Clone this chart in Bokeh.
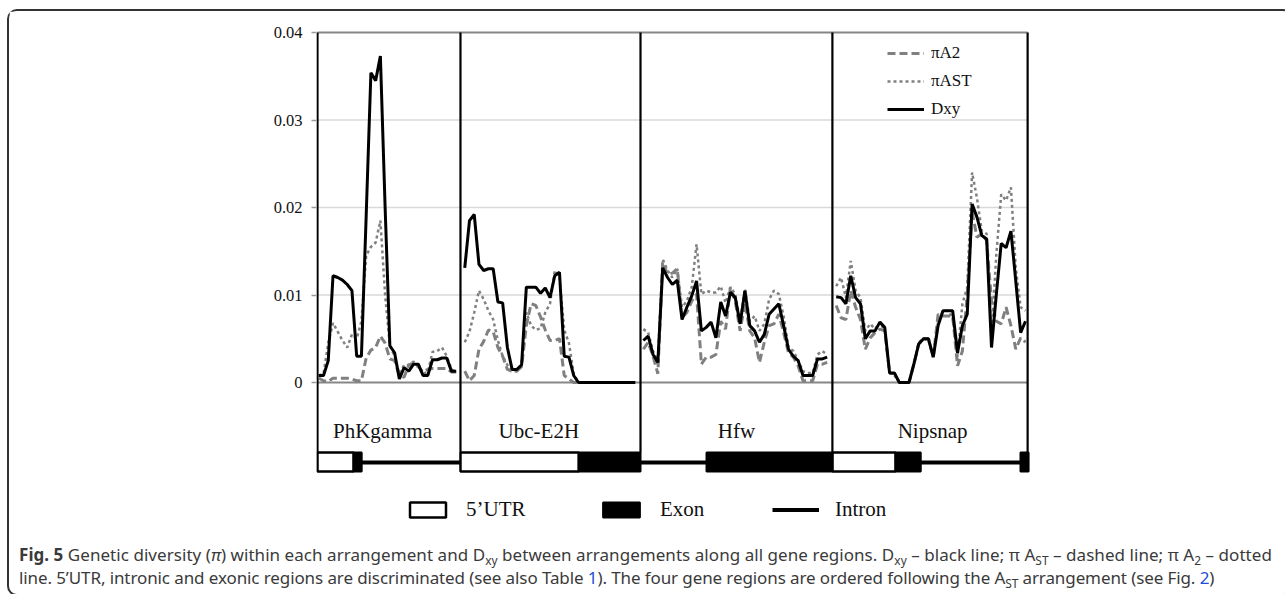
import numpy as np
from bokeh.plotting import figure
from bokeh.models import Range1d, FixedTicker, Legend, LegendItem, Div
from bokeh.layouts import column
from bokeh.embed import file_html
from bokeh.resources import INLINE
from bokeh.core.properties import value

# ---------------- data ----------------
genes = ["PhKgamma", "Ubc-E2H", "Hfw", "Nipsnap"]
y_ticks = [0, 0.01, 0.02, 0.03, 0.04]
y_tick_labels = ["0", "0.01", "0.02", "0.03", "0.04"]

dxy_phk = [0.0008, 0.0008, 0.0025, 0.0122, 0.0120, 0.0117, 0.0112, 0.0105, 0.0030, 0.0030,
           0.0190, 0.0354, 0.0345, 0.0373, 0.0200, 0.0042, 0.0034, 0.0004, 0.0017, 0.0013,
           0.0021, 0.0021, 0.0008, 0.0008, 0.0026, 0.0026, 0.0028, 0.0028, 0.0013, 0.0013]
ast_phk = [0.0008, 0.0010, 0.0045, 0.0068, 0.0058, 0.0048, 0.0040, 0.0055, 0.0050, 0.0070,
           0.0145, 0.0155, 0.0160, 0.0185, 0.0100, 0.0042, 0.0030, 0.0010, 0.0020, 0.0020,
           0.0024, 0.0018, 0.0010, 0.0012, 0.0035, 0.0036, 0.0040, 0.0030, 0.0015, 0.0012]
a2_phk = [0.0005, 0.0002, 0.0001, 0.0005, 0.0005, 0.0005, 0.0005, 0.0004, 0.0002, 0.0002,
          0.0028, 0.0037, 0.0040, 0.0053, 0.0045, 0.0027, 0.0025, 0.0008, 0.0006, 0.0020,
          0.0022, 0.0018, 0.0012, 0.0015, 0.0016, 0.0016, 0.0016, 0.0016, 0.0012, 0.0012]

dxy_ubc = [0.0131, 0.0185, 0.0192, 0.0135, 0.0128, 0.0130, 0.0130, 0.0092, 0.0091, 0.0040,
           0.0015, 0.0015, 0.0020, 0.0109, 0.0109, 0.0109, 0.0102, 0.0108, 0.0097, 0.0122,
           0.0126, 0.0030, 0.0029, 0.0008, 0.0000, 0.0, 0.0, 0.0, 0.0, 0.0,
           0.0, 0.0, 0.0, 0.0, 0.0, 0.0, 0.0]
ast_ubc = [0.0046, 0.0058, 0.0080, 0.0105, 0.0095, 0.0082, 0.0072, 0.0048, 0.0030, 0.0020,
           0.0013, 0.0013, 0.0022, 0.0080, 0.0065, 0.0060, 0.0062, 0.0080, 0.0090, 0.0128,
           0.0120, 0.0060, 0.0045, 0.0010, 0.0000, 0.0, 0.0, 0.0, 0.0, 0.0,
           0.0, 0.0, 0.0, 0.0, 0.0, 0.0, 0.0]
a2_ubc = [0.0013, 0.0002, 0.0008, 0.0038, 0.0047, 0.0060, 0.0058, 0.0040, 0.0030, 0.0015,
          0.0013, 0.0013, 0.0018, 0.0065, 0.0090, 0.0088, 0.0075, 0.0060, 0.0048, 0.0048,
          0.0050, 0.0008, 0.0004, 0.0000, 0.0000, 0.0, 0.0, 0.0, 0.0, 0.0,
          0.0, 0.0, 0.0, 0.0, 0.0, 0.0, 0.0]

dxy_hfw = [0.0048, 0.0053, 0.0032, 0.0023, 0.0131, 0.0120, 0.0112, 0.0117, 0.0072, 0.0086,
           0.0099, 0.0116, 0.0059, 0.0063, 0.0069, 0.0051, 0.0092, 0.0076, 0.0103, 0.0097,
           0.0067, 0.0105, 0.0065, 0.0059, 0.0046, 0.0055, 0.0078, 0.0084, 0.0090, 0.0065,
           0.0038, 0.0030, 0.0025, 0.0008, 0.0008, 0.0008, 0.0027, 0.0027, 0.0029]
ast_hfw = [0.0061, 0.0057, 0.0036, 0.0025, 0.0141, 0.0128, 0.0120, 0.0130, 0.0086, 0.0093,
           0.0109, 0.0158, 0.0101, 0.0105, 0.0103, 0.0103, 0.0110, 0.0091, 0.0109, 0.0101,
           0.0070, 0.0107, 0.0070, 0.0076, 0.0059, 0.0067, 0.0095, 0.0105, 0.0101, 0.0076,
           0.0040, 0.0036, 0.0025, 0.0013, 0.0011, 0.0011, 0.0032, 0.0036, 0.0032]
a2_hfw = [0.0038, 0.0046, 0.0030, 0.0010, 0.0137, 0.0124, 0.0125, 0.0130, 0.0074, 0.0080,
          0.0093, 0.0101, 0.0021, 0.0029, 0.0029, 0.0032, 0.0070, 0.0061, 0.0109, 0.0093,
          0.0059, 0.0091, 0.0059, 0.0051, 0.0023, 0.0046, 0.0065, 0.0067, 0.0078, 0.0057,
          0.0034, 0.0029, 0.0019, 0.0002, 0.0002, 0.0002, 0.0021, 0.0021, 0.0023]

dxy_nip = [0.0098, 0.0097, 0.0090, 0.0122, 0.0097, 0.0090, 0.0050, 0.0059, 0.0059, 0.0069,
           0.0063, 0.0011, 0.0011, 0.0000, 0.0000, 0.0000, 0.0021, 0.0044, 0.0050, 0.0050,
           0.0029, 0.0065, 0.0082, 0.0082, 0.0082, 0.0034, 0.0065, 0.0078, 0.0204, 0.0189,
           0.0168, 0.0164, 0.0040, 0.0101, 0.0159, 0.0154, 0.0173, 0.0116, 0.0057, 0.0070]
ast_nip = [0.0110, 0.0120, 0.0097, 0.0139, 0.0105, 0.0097, 0.0059, 0.0067, 0.0061, 0.0069,
           0.0059, 0.0011, 0.0008, 0.0000, 0.0000, 0.0000, 0.0021, 0.0046, 0.0050, 0.0048,
           0.0029, 0.0070, 0.0082, 0.0082, 0.0074, 0.0029, 0.0090, 0.0109, 0.0240, 0.0211,
           0.0173, 0.0170, 0.0055, 0.0147, 0.0215, 0.0208, 0.0223, 0.0131, 0.0086, 0.0082]
a2_nip = [0.0088, 0.0074, 0.0072, 0.0105, 0.0086, 0.0072, 0.0038, 0.0051, 0.0057, 0.0061,
          0.0059, 0.0011, 0.0010, 0.0000, 0.0000, 0.0000, 0.0021, 0.0044, 0.0050, 0.0050,
          0.0029, 0.0078, 0.0076, 0.0076, 0.0076, 0.0019, 0.0036, 0.0101, 0.0195, 0.0166,
          0.0170, 0.0162, 0.0093, 0.0070, 0.0067, 0.0086, 0.0065, 0.0038, 0.0051, 0.0046]

# window extents (in window units) of each gene region and of its sliding windows
region_bounds = [0.0, 30.1, 68.0, 108.4, 149.5]
window_span = [(0.27, 29.2), (31.0, 66.9), (68.6, 107.3), (109.2, 149.05)]

# gene structure: (feature, start, end) in window units
feat_type = ["utr", "exon", "intron", "utr", "exon", "intron", "exon", "utr", "exon", "intron", "exon"]
feat_start = [0.0, 7.6, 9.3, 30.1, 55.0, 68.0, 81.9, 108.4, 121.7, 127.0, 148.0]
feat_end = [7.6, 9.3, 30.1, 55.0, 68.0, 81.9, 108.4, 121.7, 127.0, 148.0, 149.7]

legend_labels = ["\u03c0A2", "\u03c0AST", "Dxy"]
struct_labels = ["5\u2019UTR", "Exon", "Intron"]

# ---------------- geometry (pixels) ----------------
KX = 4.75          # px per window
KY = 8750.0        # px per unit of diversity
PX_X0, PX_Y0 = 317, 382           # page position of x=0, y=0
OX, OY = 9, 11                     # page position of the figure canvas
F_L, F_R, F_T, F_B = 316, 1032, 28, 532   # frame edges on page

def ypx(py):
    return (PX_Y0 - py) / KY

FIG_W, FIG_H = 1272, 527
p = figure(width=FIG_W, height=FIG_H, output_backend="svg", toolbar_location=None,
           x_range=Range1d((F_L - PX_X0) / KX, (F_R - PX_X0) / KX),
           y_range=Range1d(ypx(F_B), ypx(F_T)),
           min_border_left=F_L - OX, min_border_right=OX + FIG_W - F_R,
           min_border_top=F_T - OY, min_border_bottom=OY + FIG_H - F_B,
           x_axis_location=None, outline_line_color=None,
           background_fill_color="white", border_fill_color="white")
p.xgrid.visible = False
p.ygrid.visible = False

ax = p.yaxis[0]
ax.ticker = FixedTicker(ticks=y_ticks)
ax.major_label_overrides = {t: s for t, s in zip(y_ticks, y_tick_labels)}
ax.axis_line_color = None
ax.major_tick_in = 0
ax.major_tick_out = 5
ax.major_tick_line_color = "#9a9a9a"
ax.major_tick_line_width = 1.5
ax.minor_tick_line_color = None
ax.major_label_standoff = 9
ax.major_label_text_font = "Liberation Serif"
ax.major_label_text_font_size = "16.5px"
ax.major_label_text_color = "#111111"

# horizontal reference lines
grid_vals = y_ticks[1:-1]
p.segment(x0=[region_bounds[0]] * len(grid_vals), x1=[region_bounds[-1]] * len(grid_vals),
          y0=grid_vals, y1=grid_vals, line_color="#d9d9d9", line_width=1.3)
p.segment(x0=[region_bounds[0]] * 2, x1=[region_bounds[-1]] * 2,
          y0=[y_ticks[0], y_ticks[-1]], y1=[y_ticks[0], y_ticks[-1]],
          line_color="#878787", line_width=2)

def joined(vals_list):
    xs, ys = [], []
    for vals, (a, b) in zip(vals_list, window_span):
        xs.extend(np.linspace(a, b, len(vals)).tolist())
        xs.append(np.nan)
        ys.extend(vals)
        ys.append(np.nan)
    return np.array(xs), np.array(ys)

xa, ya = joined([a2_phk, a2_ubc, a2_hfw, a2_nip])
xs_, ys_ = joined([ast_phk, ast_ubc, ast_hfw, ast_nip])
xd, yd = joined([dxy_phk, dxy_ubc, dxy_hfw, dxy_nip])

r_a2 = p.line(xa, ya, line_color="#808080", line_width=3, line_dash="8 4")
r_ast = p.line(xs_, ys_, line_color="#808080", line_width=2.5, line_dash="3 3")
r_dxy = p.line(xd, yd, line_color="black", line_width=3)

# panel separators
box_top, box_bot, intron_y = ypx(452), ypx(471), ypx(462)
p.segment(x0=region_bounds, x1=region_bounds, y0=[y_ticks[-1]] * 5, y1=[box_top] * 5,
          line_color="black", line_width=2.2)

# gene names
label_x = [13.7, 46.6, 88.2, 129.5]
p.text(x=label_x, y=[ypx(430)] * 4, text=genes, text_font=value("Liberation Serif"),
       text_font_size=value("21px"), text_align="center", text_baseline="alphabetic",
       text_color="#111111")

# gene structure
def sel(kind):
    idx = [i for i, t in enumerate(feat_type) if t == kind]
    return [feat_start[i] for i in idx], [feat_end[i] for i in idx]

s, e = sel("intron")
r_intron = p.segment(x0=s, x1=e, y0=[intron_y] * len(s), y1=[intron_y] * len(s),
                     line_color="black", line_width=4)
s, e = sel("utr")
r_utr = p.quad(left=s, right=e, top=[box_top] * len(s), bottom=[box_bot] * len(s),
               fill_color="white", line_color="black", line_width=2.5)
s, e = sel("exon")
r_exon = p.quad(left=s, right=e, top=[box_top] * len(s), bottom=[box_bot] * len(s),
                fill_color="black", line_color="black", line_width=2)

# legend for the diversity curves
leg = Legend(items=[LegendItem(label=legend_labels[0], renderers=[r_a2]),
                    LegendItem(label=legend_labels[1], renderers=[r_ast]),
                    LegendItem(label=legend_labels[2], renderers=[r_dxy])],
             location=(887 - F_L, F_B - 119), glyph_width=37, glyph_height=20,
             label_height=20, spacing=8, padding=0, margin=0, label_standoff=7,
             border_line_color=None, background_fill_alpha=0,
             label_text_font="Liberation Serif", label_text_font_size="17px",
             label_text_color="#111111")
p.add_layout(leg)

# legend for the gene structure
struct_r = [r_utr, r_exon, r_intron]
struct_px = [405, 598, 772]
struct_w = [45, 46, 47]
for lab, rr, px, gw in zip(struct_labels, struct_r, struct_px, struct_w):
    lg = Legend(items=[LegendItem(label=lab, renderers=[rr])],
                location=(px - F_L, F_B - 522), glyph_width=gw, glyph_height=19,
                label_height=19, padding=0, margin=0, label_standoff=16,
                border_line_color=None, background_fill_alpha=0,
                label_text_font="Liberation Serif", label_text_font_size="21px",
                label_text_color="#111111")
    p.add_layout(lg)

# caption
sub = '<sub style="font-size:70%;line-height:0;">{}</sub>'
blue = '<span style="color:#1f4fd8;">{}</span>'
line1 = ('<b>Fig. 5</b> Genetic diversity (<i>\u03c0</i>) within each arrangement and D' + sub.format("xy") +
         ' between arrangements along all gene regions. D' + sub.format("xy") +
         ' \u2013 black line; \u03c0 A' + sub.format("ST") + ' \u2013 dashed line; \u03c0 A' +
         sub.format("2") + ' \u2013 dotted')
line2 = ('line. 5\u2019UTR, intronic and exonic regions are discriminated (see also Table ' +
         blue.format("1") + '). The four gene regions are ordered following the A' + sub.format("ST") +
         ' arrangement (see Fig. ' + blue.format("2") + ')')
cap_html = ('<div style="font-family:\'Noto Sans\';font-size:17px;color:#3a3a3a;line-height:23px;'
            'white-space:nowrap;padding:0px 0 0 5px;">' +
            '<div style="letter-spacing:0.05px;">' + line1 + '</div>' +
            '<div style="letter-spacing:-0.1px;">' + line2 + '</div></div>')
cap = Div(text=cap_html, width=FIG_W, height=46)

layout = column(p, cap, styles={"border": "2px solid #333333", "border-radius": "10px",
                                "margin-left": "7px", "margin-top": "9px", "background": "white"})

open("out.html", "w").write(file_html(layout, INLINE))
